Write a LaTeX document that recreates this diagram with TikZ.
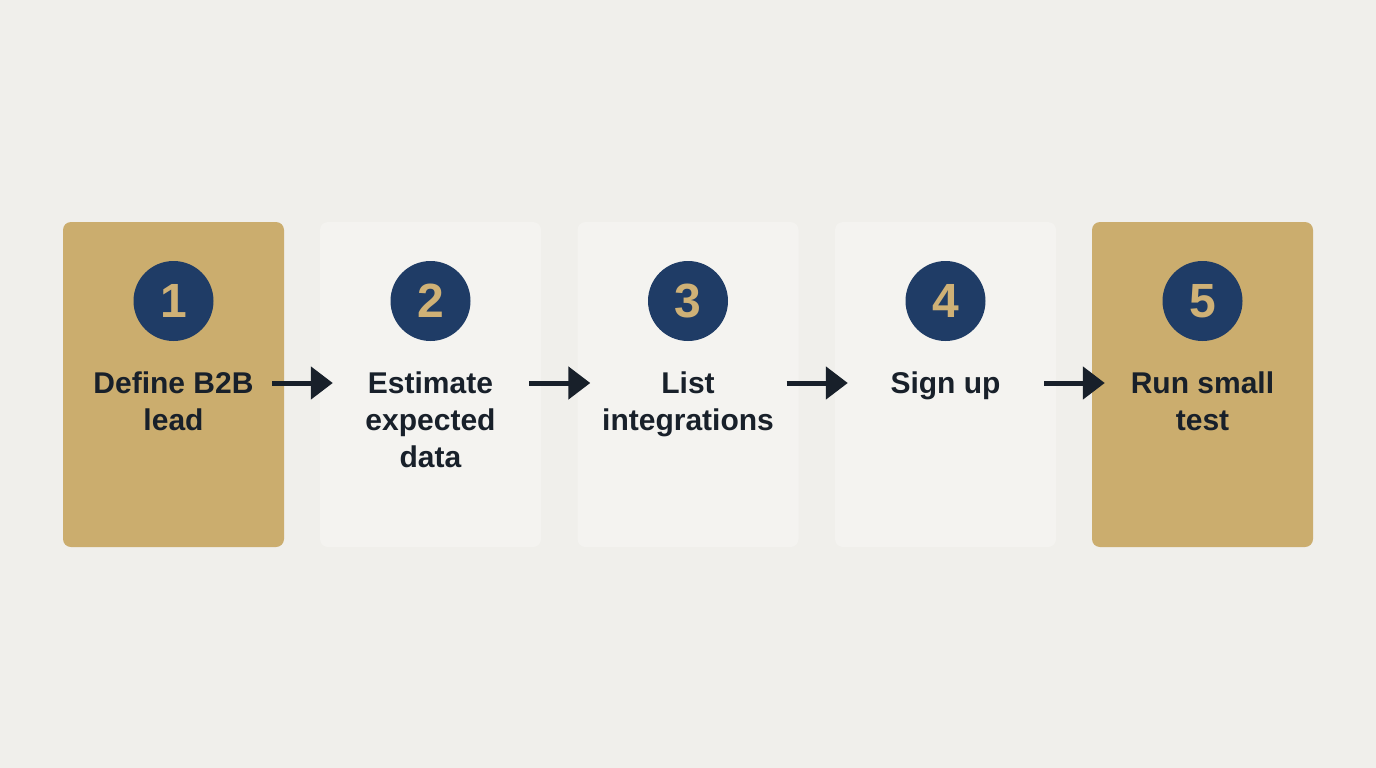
\documentclass[tikz,border=0pt]{standalone}
\usepackage{fontspec}
\setmainfont{Liberation Sans}
\usetikzlibrary{arrows.meta,calc}
\definecolor{bg}{HTML}{F0EFEB}
\definecolor{faint}{HTML}{F4F3F0}
\definecolor{gold}{HTML}{CBAD6E}
\definecolor{navy}{HTML}{1F3C66}
\definecolor{numgold}{HTML}{CFB176}
\definecolor{ink}{HTML}{18202A}
\tikzset{
  card/.style={rounded corners=8pt, minimum width=221pt, minimum height=325pt, inner sep=0pt},
  goldcard/.style={card, fill=gold},
  plaincard/.style={card, fill=faint},
  badge/.style={circle, fill=navy, minimum size=80pt, inner sep=0pt, text=numgold, font={\fontsize{48}{48}\selectfont\bfseries}},
  label/.style={anchor=north, align=center, inner sep=0pt, text=ink, font={\fontsize{30}{37}\selectfont\bfseries}},
  flow/.style={draw=ink, line width=5pt, -{Triangle[length=22pt,width=32pt]}}
}
\begin{document}
\begin{tikzpicture}[x=1pt,y=1pt]
\fill[bg] (0,0) rectangle (1376,-768);
\useasboundingbox (0,0) rectangle (1376,-768);
\node[goldcard]  (b1) at (173.5,-384.5) {};
\node[plaincard] (b2) at (430.5,-384.5) {};
\node[plaincard] (b3) at (688,-384.5) {};
\node[plaincard] (b4) at (945.5,-384.5) {};
\node[goldcard]  (b5) at (1202.5,-384.5) {};
\node[badge] (c1) at (173.5,-301) {1};
\node[badge] (c2) at (430.5,-301) {2};
\node[badge] (c3) at (688,-301) {3};
\node[badge] (c4) at (945.5,-301) {4};
\node[badge] (c5) at (1202.5,-301) {5};
\node[label] (t1) at (173.5,-372) {Define B2B\\lead};
\node[label] (t2) at (430.5,-372) {Estimate\\expected\\data};
\node[label] (t3) at (688,-372) {List\\integrations};
\node[label] (t4) at (945.5,-372) {Sign up};
\node[label] (t5) at (1202.5,-372) {Run small\\test};
\foreach \i/\j in {1/2,2/3,3/4,4/5}{
  \coordinate (s\i) at ($(b\i.east)+(-12,1.5)$);
  \coordinate (e\i) at ($(b\j.west)+(13,1.5)$);
  \draw[flow] (s\i) -- (e\i);
}
\end{tikzpicture}
\end{document}
